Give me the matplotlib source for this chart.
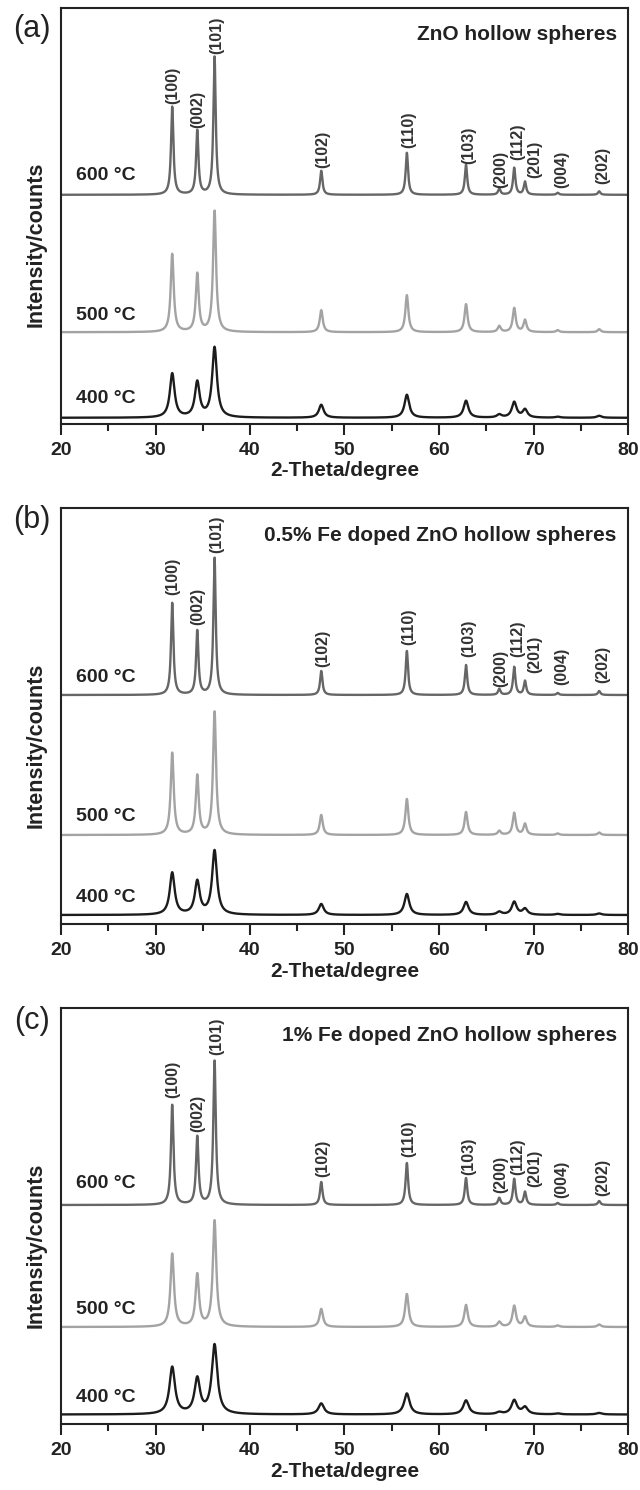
import matplotlib
matplotlib.use("Agg")
import matplotlib.pyplot as plt
import numpy as np

plt.rcParams['font.family'] = ['Liberation Sans', 'DejaVu Sans']

# ZnO reflections (2-theta, degree) and their Miller indices
peak_pos = [31.77, 34.42, 36.25, 47.54, 56.60, 62.86, 66.38, 67.96, 69.10, 72.56, 76.95]
hkl = ['(100)', '(002)', '(101)', '(102)', '(110)', '(103)', '(200)', '(112)', '(201)', '(004)', '(202)']

# where the hkl labels sit (x in degree, bottom of label in plot units)
label_x = [31.85, 34.50, 36.49, 47.70, 56.78, 63.12, 66.51, 68.36, 70.16, 72.95, 77.31]
label_y_a = [320, 295, 370, 256, 275, 260, 236, 263, 245, 236, 240]
label_y_b = [329, 299, 371, 257, 279, 267, 237, 267, 251, 239, 241]
label_y_c = [326, 292, 369, 247, 267, 249, 231, 249, 237, 226, 228]

temps = ['600 °C', '500 °C', '400 °C']
temp_label_y_a = [248, 108, 25]
temp_label_y_b = [246, 107, 26]
temp_label_y_c = [241, 114, 26]

# baselines (offsets) of each pattern, plot units
base_a = [228.7, 91.3, 5.7]
base_b = [229, 89, 9]
base_c = [219, 97, 9.5]

# peak heights above baseline
h_a_600 = [88, 64, 138, 24, 42, 30, 6, 27, 13, 2, 3.5]
h_a_500 = [78, 58, 121, 22, 37, 28, 6, 24, 12, 2, 3]
h_a_400 = [44, 35, 70, 13, 23, 17, 3, 15.5, 8, 1, 2]
h_b_600 = [92, 64, 137, 24, 44, 30, 6, 28, 14, 2, 4]
h_b_500 = [82, 59, 123, 20, 36, 23, 4, 22, 11, 1.5, 2.5]
h_b_400 = [42, 33, 64, 11, 21, 13, 3, 13, 6, 1, 1.5]
h_c_600 = [100, 68, 144, 23, 42, 27, 7, 26, 13, 2, 4]
h_c_500 = [73, 52, 106, 18, 33, 22, 5, 21, 10, 1.5, 2.5]
h_c_400 = [47, 35, 69, 11, 21, 14, 2, 14, 7, 1, 1.5]

# peak FWHM (degree) per pattern
fwhm_a = [0.30, 0.38, 0.60]
fwhm_b = [0.30, 0.38, 0.62]
fwhm_c = [0.32, 0.44, 0.70]

titles = ['ZnO hollow spheres', '0.5% Fe doped ZnO hollow spheres', '1% Fe doped ZnO hollow spheres']
panel_tags = ['(a)', '(b)', '(c)']
colors = ['#666666', '#a3a3a3', '#1c1c1c']


def pattern(tt, heights, fwhm, base):
    y = np.full_like(tt, base)
    for p, h in zip(peak_pos, heights):
        y += h / (1 + (2 * (tt - p) / fwhm) ** 2)
    return y


W, H = 640, 1490
fig = plt.figure(figsize=(W / 100, H / 100), dpi=100)

panels = [
    (7.5, [h_a_600, h_a_500, h_a_400], fwhm_a, base_a, label_y_a, temp_label_y_a, 29),
    (508, [h_b_600, h_b_500, h_b_400], fwhm_b, base_b, label_y_b, temp_label_y_b, 520),
    (1008, [h_c_600, h_c_500, h_c_400], fwhm_c, base_c, label_y_c, temp_label_y_c, 1021),
]

tt = np.linspace(20, 80, 4001)
for i, (top, heights, fwhm, base, lab_y, t_y, tag_y) in enumerate(panels):
    ax = fig.add_axes([61 / W, 1 - (top + 416) / H, 567 / W, 416 / H])
    for j in range(3):
        ax.plot(tt, pattern(tt, heights[j], fwhm[j], base[j]), color=colors[j], lw=1.7)
        ax.text(21.6, t_y[j], temps[j], fontsize=14, fontweight='bold', color='#222222',
                va='center', ha='left')
    for lx, ly, lab in zip(label_x, lab_y, hkl):
        ax.text(lx, ly, lab, rotation=90, fontsize=11.5, fontweight='bold', color='#333333',
                ha='center', va='bottom')
    ax.text(0.98, 0.935, titles[i], transform=ax.transAxes, fontsize=15, fontweight='bold',
            color='#222222', ha='right', va='center')

    ax.set_xlim(20, 80)
    ax.set_ylim(0, 416)
    ax.set_yticks([])
    ax.set_xticks(np.arange(20, 81, 10))
    ax.set_xticks(np.arange(25, 80, 10), minor=True)
    ax.tick_params(axis='x', which='major', direction='out', length=8, width=1.5,
                   labelsize=14, pad=5, colors='#222222')
    ax.tick_params(axis='x', which='minor', direction='out', length=5, width=1.5, colors='#222222')
    for lbl in ax.get_xticklabels():
        lbl.set_fontweight('bold')
    for sp in ax.spines.values():
        sp.set_linewidth(1.5)
        sp.set_color('#222222')
    ax.set_xlabel('2-Theta/degree', fontsize=15, fontweight='bold', color='#222222', labelpad=2)

    fig.text(36 / W, 1 - (top + 416 * 0.57) / H, 'Intensity/counts', rotation=90,
             fontsize=15.5, fontweight='bold', color='#222222', ha='center', va='center')
    fig.text(32 / W, 1 - tag_y / H, panel_tags[i], fontsize=22, color='#222222',
             ha='center', va='center')

fig.savefig('out.png', dpi=100)
